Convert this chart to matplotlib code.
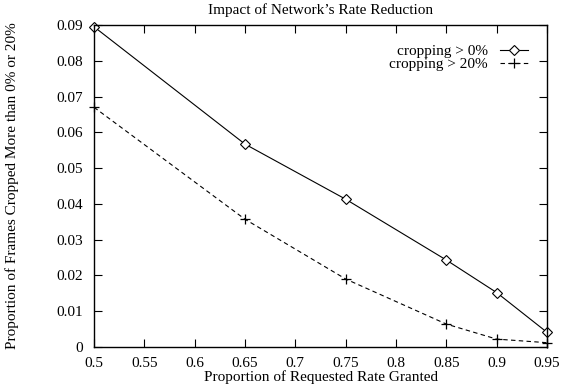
import matplotlib
matplotlib.use("Agg")
import matplotlib.pyplot as plt

rate_granted = [0.5, 0.65, 0.75, 0.85, 0.9, 0.95]
cropped_gt0 = [0.0895, 0.0567, 0.0413, 0.0243, 0.0152, 0.0041]
cropped_gt20 = [0.0670, 0.0357, 0.0190, 0.0064, 0.0022, 0.0012]
x_ticks = [0.5, 0.55, 0.6, 0.65, 0.7, 0.75, 0.8, 0.85, 0.9, 0.95]
y_ticks = [0, 0.01, 0.02, 0.03, 0.04, 0.05, 0.06, 0.07, 0.08, 0.09]

plt.rcParams['font.family'] = ['Liberation Serif', 'DejaVu Serif']
plt.rcParams['font.size'] = 11

fig = plt.figure(figsize=(5.61, 3.87), dpi=100)
ax = fig.add_axes([0.1676, 0.1034, 0.8075, 0.832])

ax.plot(rate_granted, cropped_gt0, color='black', lw=0.8, marker='D',
        markersize=5.5, markerfacecolor='white', markeredgewidth=0.8,
        label='cropping > 0%', clip_on=False)
ax.plot(rate_granted, cropped_gt20, color='black', lw=0.8, ls=(0, (4, 3)),
        marker='+', markersize=7, markeredgewidth=0.9,
        label='cropping > 20%', clip_on=False)

ax.set_xlim(0.5, 0.95)
ax.set_ylim(0, 0.09)
ax.set_xticks(x_ticks)
ax.set_xticklabels([f"{v:g}" for v in x_ticks])
ax.set_yticks(y_ticks)
ax.set_yticklabels([f"{v:g}" for v in y_ticks])
ax.tick_params(axis='both', direction='in', top=True, right=True, length=6,
               width=0.8, labelsize=11)
ax.tick_params(axis='y', pad=8)
ax.tick_params(axis='x', pad=7)
for s in ax.spines.values():
    s.set_linewidth(1.0)

ax.text(0.5, 1.0466, "Impact of Network\u2019s Rate Reduction", fontsize=11,
        ha='center', va='center', transform=ax.transAxes)
ax.set_xlabel("Proportion of Requested Rate Granted", fontsize=11)
ax.xaxis.set_label_coords(0.5, -0.072)
ax.set_ylabel("Proportion of Frames Cropped More than 0% or 20%", fontsize=11)
ax.yaxis.set_label_coords(-0.166, 0.5)

ax.legend(loc='upper right', bbox_to_anchor=(0.958, 0.94), frameon=False,
          markerfirst=False, handlelength=1.85, handletextpad=0.8,
          labelspacing=-0.02, fontsize=11, borderaxespad=0, borderpad=0)

fig.savefig("out.png", dpi=100)
